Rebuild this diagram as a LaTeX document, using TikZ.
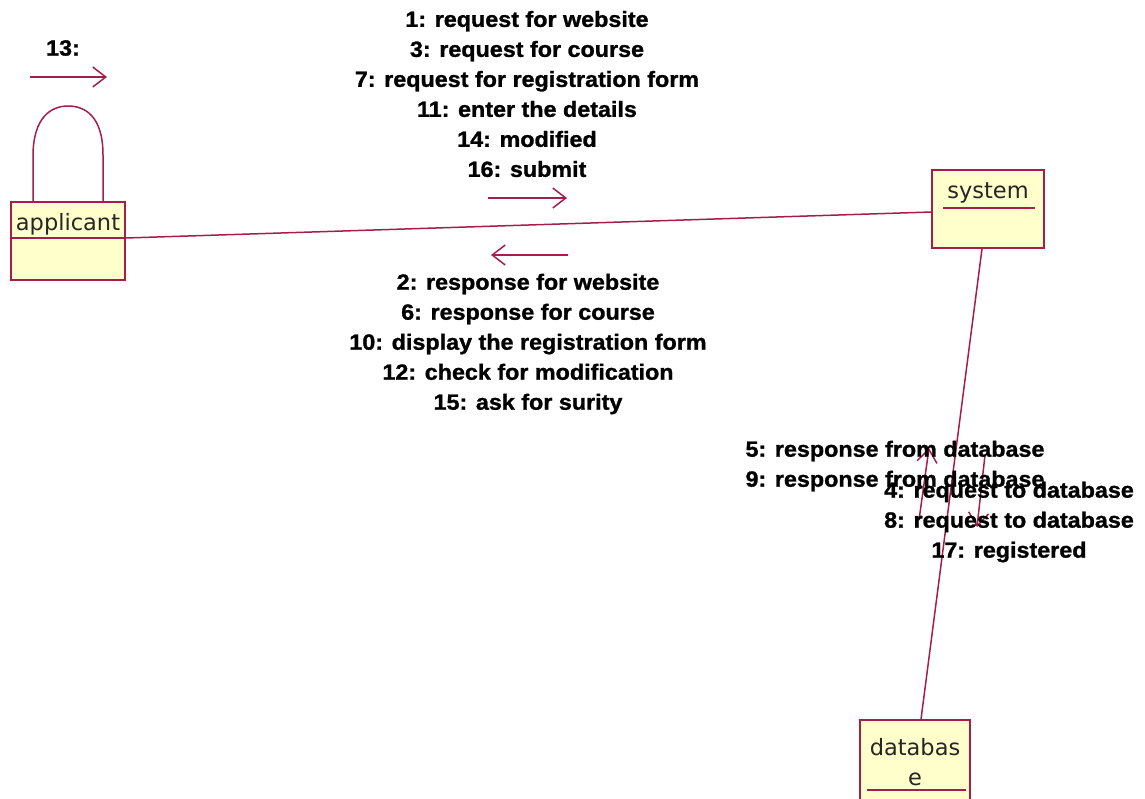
\documentclass[tikz,border=0pt]{standalone}
\usepackage{fontspec}
\usetikzlibrary{arrows.meta}
\newfontfamily\lblfam{Liberation Sans}[BoldFeatures={FakeStretch=1.06,FakeBold=1.2}]
\newfontfamily\boxfam{DejaVu Sans}
\definecolor{umlline}{RGB}{165,30,75}
\definecolor{umlfill}{RGB}{255,255,204}
\tikzset{
  objbox/.style={draw=umlline, fill=umlfill, line width=1.5pt, rectangle, inner sep=0pt},
  boxtext/.style={font=\boxfam\fontsize{22.5}{30}\selectfont, text=black!85, inner sep=0pt},
  lbl/.style={font=\lblfam\bfseries\fontsize{22}{30}\selectfont, align=center, inner sep=0pt},
  link/.style={draw=umlline, line width=1.5pt},
  msg/.style={draw=umlline, line width=1.5pt, -{Straight Barb[length=13pt,width=20pt,line width=1.5pt]}}
}
\begin{document}
\begin{tikzpicture}[x=1pt,y=-1pt]
\useasboundingbox (0,0) rectangle (1145,798);
% objects
\node[objbox, minimum width=114, minimum height=78] (app) at (68,241) {};
\node[boxtext] (apptxt) at (68,224) {applicant};
\draw[link] ([yshift=3pt]app.west) -- ([yshift=3pt]app.east);

\node[objbox, minimum width=112, minimum height=78] (sys) at (988,209) {};
\node[boxtext] (systxt) at (988,193) {system};
\draw[link] (943,208) -- (1035,208);

\node[objbox, minimum width=110, minimum height=80] (db) at (915,760) {};
\node[boxtext, align=center] (dbtxt) at (915,762) {databas\\e};
\draw[link] (867,790) -- (966,790);

% links
\draw[link] ([yshift=3pt]app.east) -- ([yshift=-3pt]sys.west);
\draw[link] ([xshift=-6pt]sys.south) -- ([xshift=6pt]db.north);
\draw[link] ([xshift=-35pt]app.north) -- ++(0,-45) .. controls +(0,-40) and (52,106) .. (68,106)
  .. controls (84,106) and (103,115) .. (103,155) -- ([xshift=35pt]app.north);

% message arrows
\coordinate (m13a) at (30,77); \coordinate (m13b) at (107,77);
\draw[msg] (m13a) -- (m13b);
\coordinate (mra) at (488,198); \coordinate (mrb) at (567,198);
\draw[msg] (mra) -- (mrb);
\coordinate (mla) at (568,255); \coordinate (mlb) at (491,255);
\draw[msg] (mla) -- (mlb);
\coordinate (mua) at (919,520); \coordinate (mub) at (929,448);
\draw[msg] (mua) -- (mub);
\coordinate (mda) at (985,455); \coordinate (mdb) at (977,527);
\draw[msg] (mda) -- (mdb);

% labels
\node[lbl] (l13) at (63,48) {13:};
\node[lbl] (ltop) at (527,94) {1: request for website\\3: request for course\\7: request for registration form\\11: enter the details\\14: modified\\16: submit};
\node[lbl] (lbot) at (528,344) {2: response for website\\6: response for course\\10: display the registration form\\12: check for modification\\15: ask for surity};
\node[lbl] (lresp) at (895,466) {5: response from database\\9: response from database};
\node[lbl] (lreq) at (1009,522) {4: request to database\\8: request to database\\17: registered};
\end{tikzpicture}
\end{document}
